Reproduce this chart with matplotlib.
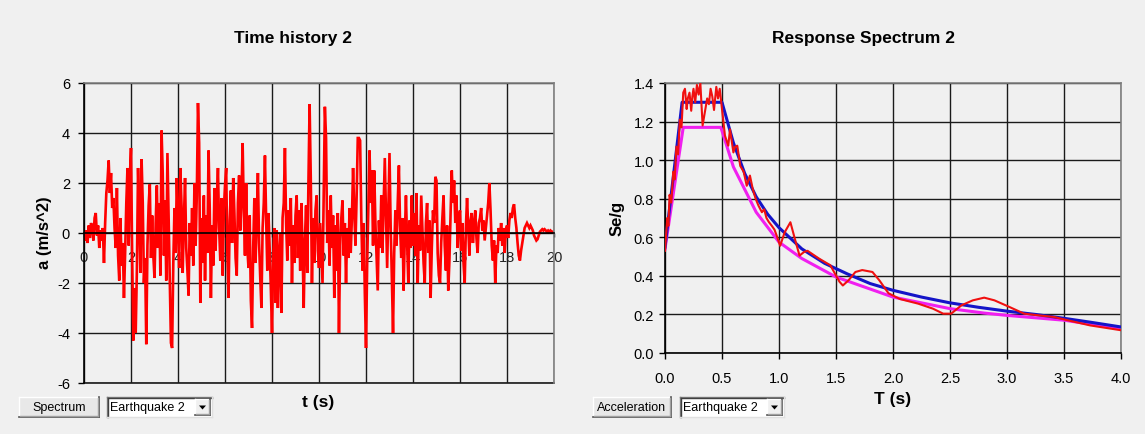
import numpy as np
import matplotlib
matplotlib.use("Agg")
import matplotlib.pyplot as plt
from matplotlib.patches import Rectangle, Polygon
from matplotlib.lines import Line2D
from matplotlib.ticker import FormatStrFormatter

# ---------------- data ----------------
# ground acceleration record, sampled every dt seconds (m/s^2)
dt = 0.05
accel = [
    0.0, -0.3, 0.1, -0.4, 0.3, -0.2, 0.4, 0.2, -0.3, 0.6,
    0.8, -0.1, 0.3, -0.6, 0.1, -0.3, 0.2, -1.2, 0.4, 1.6,
    2.1, 2.9, 1.6, 2.4, 1.0, 1.4, 0.2, -0.6, 1.8, -0.9,
    -1.9, 0.6, -1.3, -0.4, -2.6, -0.8, 1.2, 2.6, -0.5, 2.2,
    3.4, -1.0, -4.3, -2.2, -4.0, -1.5, 2.6, 0.8, -1.6, 2.95,
    1.2, -2.0, -1.0, -4.45, -0.5, 1.1, 1.95, -1.0, 0.7, -0.9,
    -1.8, 0.4, 1.9, -0.6, 1.2, -1.7, 4.1, 2.4, -0.9, 1.3,
    -1.9, 3.2, 0.6, -2.2, -4.4, -4.6, -1.2, 1.0, -0.8, 2.2,
    0.3, -1.4, 2.6, 1.1, -1.6, 0.5, 2.2, -0.6, -1.5, -2.5,
    0.4, -0.9, 1.0, -1.3, 2.0, -0.5, 1.5, 5.2, 3.6, -2.8,
    0.6, -1.2, 1.5, -1.9, 0.7, -0.8, 3.3, 1.0, -2.6, 0.3,
    -1.3, 1.8, -0.7, 1.2, 2.6, 0.2, -1.1, 1.4, -1.7, 0.9,
    1.9, 2.6, -0.8, -2.6, 0.5, 1.7, -0.4, 2.2, 0.8, -1.0,
    -1.7, 1.2, 2.3, 0.1, 1.4, 3.6, 0.9, -0.9, 2.0, -0.6,
    -1.4, 0.7, -2.7, -3.8, -0.6, 1.4, -1.2, 0.5, 2.4, -0.4,
    -1.8, -3.0, 0.2, 1.2, 3.1, 0.6, -1.5, 0.8, -0.6, -2.2,
    -4.0, -1.0, 0.2, -2.8, 0.1, -3.0, -0.9, 0.0, -3.2, 0.6,
    1.2, 3.4, 0.4, -1.1, 0.9, -0.5, 1.4, -2.0, 0.3, -1.2,
    0.7, 1.5, -1.0, 0.9, -1.5, 1.2, -0.6, -3.0, -0.3, 1.1,
    -1.6, 2.0, 5.15, 2.2, -2.0, 0.6, -1.2, 0.9, 1.5, -0.7,
    -1.4, 0.4, -0.8, -2.0, 1.4, 5.05, 3.8, -0.4, 0.9, -1.3,
    1.5, -0.6, 0.7, -2.6, 0.3, -1.5, 0.8, -4.0, -0.5, 0.6,
    1.3, -0.9, 0.4, -2.0, 0.2, -1.0, 1.0, -0.8, 0.6, 2.6,
    0.9, -0.5, 1.4, 3.8, 3.8, 3.7, 0.6, -1.5, 0.4, -2.4,
    -4.6, -1.2, 1.0, 3.3, 1.2, 2.5, -0.5, 2.5, 0.4, -1.0,
    -2.3, 0.5, -0.6, 1.5, -0.8, 1.1, 3.0, 0.7, -1.4, 1.0,
    3.2, 0.2, -1.8, -4.0, -0.8, 0.9, -0.5, 1.2, 2.7, 0.3,
    -1.0, 0.6, -2.3, -0.2, 1.5, -0.4, -2.0, 0.5, -0.6, 1.5,
    -0.5, 0.8, -0.9, 1.6, -2.0, 0.3, -0.7, 1.5, 0.2, -1.2,
    -2.0, 0.4, 1.2, -0.8, 0.5, -2.6, -0.6, 0.9, 0.4, 2.25,
    2.1, -0.8, -1.7, -2.0, -0.4, 0.6, 1.5, -0.5, -1.5, 0.3,
    -2.3, -1.1, 0.8, 2.5, 1.2, 2.1, 0.4, 1.5, -0.6, 0.5,
    0.9, -0.7, 0.4, -1.2, -2.0, 0.2, 1.4, 0.3, -0.9, 0.5,
    0.8, -0.4, 0.3, 0.9, -0.2, -0.8, 0.4, 0.6, 1.0, 0.1,
    0.5, -0.3, 0.2, 0.7, 1.2, 2.0, 0.9, -0.5, -1.1, -0.3,
    -2.0, -0.5, -0.8, 0.2, -0.3, 0.4, -0.5, 0.2, -0.8, 0.1,
    0.3, -0.2, 0.5, 0.8, 0.6, 1.0, 1.15, 0.6, 0.2, -0.4,
    -0.9, -1.1, -0.7, -0.4, -0.1, 0.2, 0.3, 0.4, 0.3, 0.2,
    0.3, 0.2, 0.1, -0.1, -0.2, -0.3, -0.25, -0.1, 0.05, 0.1,
    0.15, 0.1, 0.15, 0.1, 0.05, 0.1, 0.05, 0.1, 0.05, 0.05,
    0.0,
]

# design spectrum (blue) - period T (s) and Se/g
period_design = [0.0, 0.15, 0.5, 0.6, 0.7, 0.8, 0.9, 1.0, 1.2, 1.4, 1.6,
                 1.8, 2.0, 2.25, 2.5, 2.75, 3.0, 3.25, 3.5, 3.75, 4.0]
se_design = [0.55, 1.30, 1.30, 1.09, 0.93, 0.81, 0.72, 0.65, 0.54, 0.465, 0.41,
             0.36, 0.325, 0.29, 0.26, 0.237, 0.217, 0.20, 0.18, 0.158, 0.135]

# mean / target spectrum (magenta)
period_target = [0.0, 0.16, 0.49, 0.6, 0.8, 1.0, 1.2, 1.5, 2.0, 2.5, 2.8,
                 3.0, 3.5, 4.0]
se_target = [0.54, 1.17, 1.17, 0.965, 0.73, 0.575, 0.49, 0.394, 0.29, 0.23, 0.207,
             0.195, 0.17, 0.126]

# response spectrum of the record (red)
period_record = [0.0, 0.02, 0.03, 0.04, 0.055, 0.073, 0.085, 0.10, 0.115, 0.13,
                 0.145, 0.16, 0.175, 0.19, 0.20, 0.215, 0.23, 0.24, 0.25, 0.265,
                 0.28, 0.295, 0.31, 0.33, 0.35, 0.37, 0.385, 0.40, 0.415, 0.43,
                 0.45, 0.465, 0.48, 0.50, 0.526, 0.555, 0.57, 0.585, 0.60, 0.615,
                 0.634, 0.66, 0.69, 0.717, 0.745, 0.77, 0.795, 0.82, 0.85, 0.87,
                 0.89, 0.91, 0.936, 0.96, 0.98, 1.01, 1.05, 1.10, 1.14,
                 1.18, 1.22, 1.25, 1.30, 1.35, 1.45, 1.53, 1.56, 1.61, 1.67, 1.73,
                 1.82, 1.88, 1.96, 2.06, 2.22, 2.35, 2.44, 2.51, 2.60, 2.70,
                 2.80, 2.89, 3.02, 3.15, 3.28, 3.41, 3.53, 3.73, 4.0]
se_record = [0.53, 0.70, 0.66, 0.82, 0.78, 0.94, 0.90, 1.07, 1.03, 1.21,
             1.17, 1.35, 1.37, 1.265, 1.32, 1.35, 1.256, 1.33, 1.37, 1.30,
             1.39, 1.34, 1.40, 1.18, 1.25, 1.32, 1.29, 1.37, 1.33, 1.26,
             1.38, 1.32, 1.37, 1.265, 1.127, 1.075, 1.16, 1.10, 1.04, 1.07,
             1.075, 0.97, 0.94, 0.867, 0.92, 0.85, 0.80, 0.764, 0.73, 0.745,
             0.70, 0.68, 0.66, 0.64, 0.608, 0.556, 0.626, 0.678, 0.59,
             0.505, 0.524, 0.53, 0.51, 0.49, 0.455, 0.37, 0.35, 0.377, 0.42, 0.43,
             0.42, 0.377, 0.31, 0.28, 0.256, 0.23, 0.204, 0.204, 0.247, 0.273,
             0.287, 0.273, 0.239, 0.204, 0.195, 0.187, 0.17, 0.143, 0.118]

time_ticks = [0, 2, 4, 6, 8, 10, 12, 14, 16, 18, 20]
accel_ticks = [-6, -4, -2, 0, 2, 4, 6]
period_ticks = [0.0, 0.5, 1.0, 1.5, 2.0, 2.5, 3.0, 3.5, 4.0]
se_ticks = [0.0, 0.2, 0.4, 0.6, 0.8, 1.0, 1.2, 1.4]

# ---------------- figure ----------------
W, H = 1145, 435
BG = "#F0F0F0"
FONT = "Liberation Sans"
plt.rcParams["font.family"] = [FONT, "DejaVu Sans"]
plt.rcParams["axes.unicode_minus"] = False

fig = plt.figure(figsize=(W / 100, H / 100), dpi=100)
fig.patch.set_facecolor(BG)


def px_box(l, t, r, b):
    return [l / W, 1 - b / H, (r - l) / W, (b - t) / H]


# overlay in pixel coordinates for titles, labels and form controls
ov = fig.add_axes([0, 0, 1, 1])
ov.set_xlim(0, W)
ov.set_ylim(H, 0)
ov.axis("off")
ov.patch.set_alpha(0)


def style_axes(ax):
    ax.set_facecolor(BG)
    ax.set_axisbelow(True)
    ax.grid(True, color="#1a1a1a", linewidth=1.0)
    for s in ax.spines.values():
        s.set_color("#808080")
        s.set_linewidth(1.2)
    ax.spines["left"].set_color("#000000")
    ax.tick_params(axis="both", colors="#000000", labelsize=10.5,
                   length=4, width=1.0, direction="out")


# ---- left: time history ----
ax1 = fig.add_axes(px_box(84, 84, 554, 384))
style_axes(ax1)
time = np.arange(len(accel)) * dt
ax1.plot(time, accel, color="#FF0000", linewidth=1.9, zorder=2,
         solid_joinstyle="miter")
ax1.set_xlim(0, 20)
ax1.set_ylim(-6, 6)
ax1.set_xticks(time_ticks)
ax1.set_yticks(accel_ticks)
ax1.spines["bottom"].set_position(("data", 0))
ax1.spines["bottom"].set_color("#000000")
ax1.axhline(-6, color="#1a1a1a", linewidth=1.2, zorder=1, clip_on=False)
ax1.tick_params(axis="x", pad=9, length=3)
ax1.tick_params(axis="y", pad=6)
for lab in ax1.get_xticklabels():
    lab.set_color("#222222")

# ---- right: response spectrum ----
ax2 = fig.add_axes(px_box(665, 84, 1121, 354))
style_axes(ax2)
ax2.plot(period_target, se_target, color="#F020F0", linewidth=2.2, zorder=2)
ax2.plot(period_design, se_design, color="#1414C8", linewidth=2.2, zorder=3)
ax2.plot(period_record, se_record, color="#F01010", linewidth=1.5, zorder=4)
ax2.set_xlim(0, 4.0)
ax2.set_ylim(0, 1.4)
ax2.set_xticks(period_ticks)
ax2.set_yticks(se_ticks)
ax2.xaxis.set_major_formatter(FormatStrFormatter("%.1f"))
ax2.yaxis.set_major_formatter(FormatStrFormatter("%.1f"))
ax2.spines["bottom"].set_color("#000000")
ax2.tick_params(axis="x", pad=9)
ax2.tick_params(axis="y", pad=4)

# ---- titles and axis labels ----
ov.text(293, 38, "Time history 2", ha="center", va="center",
        fontsize=12.5, fontweight="bold")
ov.text(864, 38, "Response Spectrum 2", ha="center", va="center",
        fontsize=12.5, fontweight="bold")
ov.text(45, 233, "a (m/s^2)", ha="center", va="center", rotation=90,
        fontsize=12, fontweight="bold")
ov.text(617, 218, "Se/g", ha="center", va="center", rotation=90,
        fontsize=12, fontweight="bold")
ov.text(318, 403, "t (s)", ha="center", va="center",
        fontsize=12.5, fontweight="bold")
ov.text(893, 400, "T (s)", ha="center", va="center",
        fontsize=12.5, fontweight="bold")


# ---- form controls below the charts ----
def hline(x0, x1, y, c, lw=1.0):
    ov.add_line(Line2D([x0, x1], [y, y], color=c, linewidth=lw))


def vline(x, y0, y1, c, lw=1.0):
    ov.add_line(Line2D([x, x], [y0, y1], color=c, linewidth=lw))


def raised(l, t, r, b, face="#E8E8E8"):
    ov.add_patch(Rectangle((l, t), r - l, b - t, facecolor=face, edgecolor="none"))
    hline(l, r, t, "#FFFFFF")
    vline(l, t, b, "#FFFFFF")
    hline(l, r, b, "#505050", 1.2)
    vline(r, t, b, "#505050", 1.2)
    hline(l + 1, r - 1, b - 1, "#A0A0A0")
    vline(r - 1, t + 1, b - 1, "#A0A0A0")


def button(l, t, r, b, label):
    raised(l, t, r, b)
    ov.text((l + r) / 2, (t + b) / 2 + 0.5, label, ha="center", va="center",
            fontsize=9, color="#000000")


def combo(l, t, r, b, label):
    ov.add_patch(Rectangle((l, t), r - l, b - t, facecolor="#FFFFFF", edgecolor="none"))
    hline(l, r, t, "#808080")
    vline(l, t, b, "#808080")
    hline(l + 1, r, t + 1, "#404040")
    vline(l + 1, t + 1, b, "#404040")
    hline(l, r, b, "#E0E0E0")
    vline(r, t, b, "#E0E0E0")
    ov.text(l + 3, (t + b) / 2 + 0.5, label, ha="left", va="center",
            fontsize=9, color="#000000")
    bl, br = r - 17, r - 2
    raised(bl, t + 2, br, b - 2, face="#F0F0F0")
    cx, cy = (bl + br) / 2, (t + b) / 2 + 0.5
    ov.add_patch(Polygon([[cx - 3.5, cy - 2], [cx + 3.5, cy - 2], [cx, cy + 2]],
                         closed=True, facecolor="#000000", edgecolor="none"))


button(19, 398, 99, 418, "Spectrum")
combo(107, 398, 212, 418, "Earthquake 2")
button(593, 398, 671, 418, "Acceleration")
combo(680, 398, 784, 418, "Earthquake 2")

fig.savefig("out.png", dpi=100, facecolor=fig.get_facecolor())
